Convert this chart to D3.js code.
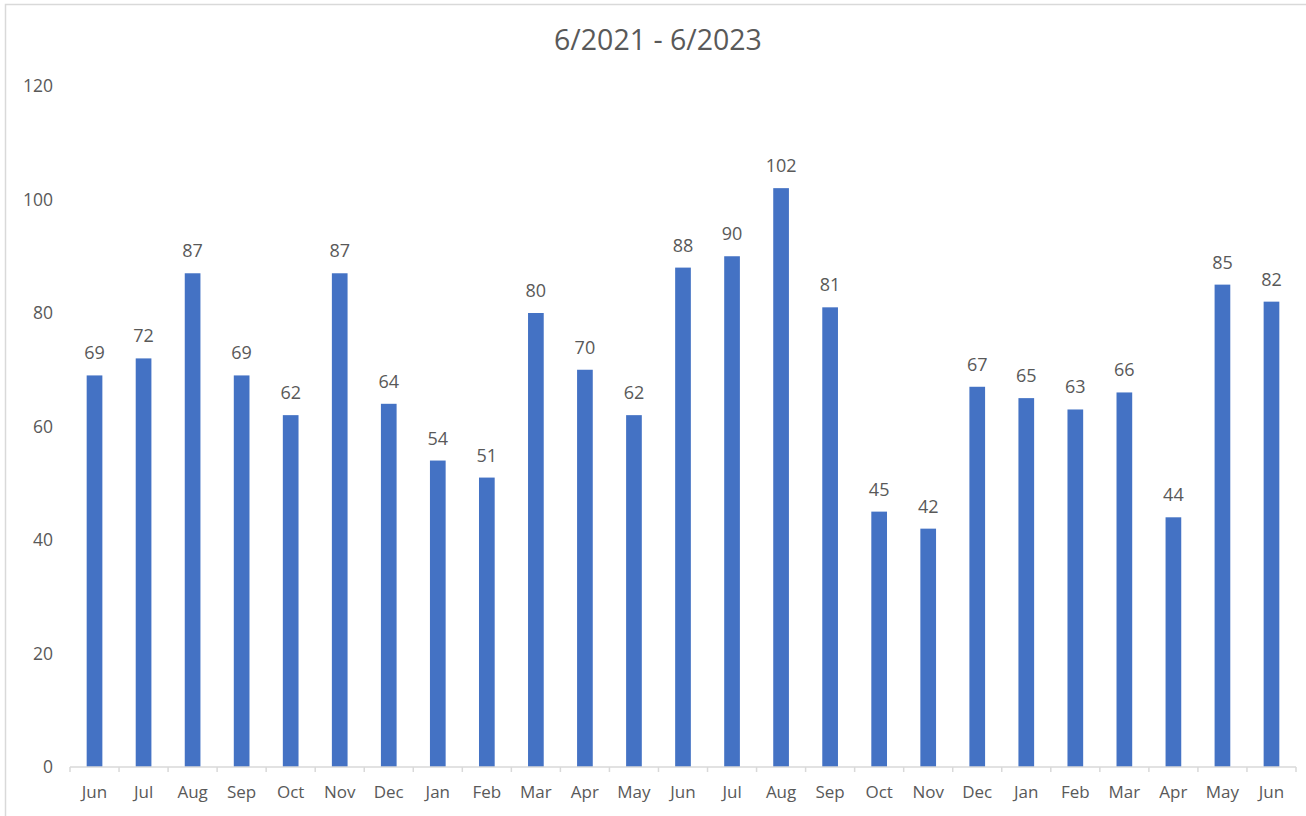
<!DOCTYPE html>
<html>
  <head>
    <script src="https://d3js.org/d3.v7.min.js"></script>
    <style>
      body { margin: 0; background: #fff; }
      text { font-family: "Open Sans", "Noto Sans", sans-serif; fill: #595959; }
    </style>
  </head>
  <body>
    <svg width="1306" height="816"></svg>
    <script>
      // month labels, 6/2021 through 6/2023
      var months = ["Jun", "Jul", "Aug", "Sep", "Oct", "Nov", "Dec", "Jan", "Feb", "Mar", "Apr", "May",
                    "Jun", "Jul", "Aug", "Sep", "Oct", "Nov", "Dec", "Jan", "Feb", "Mar", "Apr", "May", "Jun"];
      var counts = [69, 72, 87, 69, 62, 87, 64, 54, 51, 80, 70, 62,
                    88, 90, 102, 81, 45, 42, 67, 65, 63, 66, 44, 85, 82];
      var yTicks = [0, 20, 40, 60, 80, 100, 120];

      var svg = d3.select("svg");

      // chart frame
      svg.append("rect")
        .attr("x", 5.5).attr("y", 4.5)
        .attr("width", 1306).attr("height", 820)
        .attr("fill", "#fff")
        .attr("stroke", "#d9d9d9")
        .attr("stroke-width", 1.5);

      svg.append("text")
        .attr("x", 658).attr("y", 50)
        .attr("text-anchor", "middle")
        .style("font-size", "28.5px")
        .text("6/2021 - 6/2023");

      var idx = d3.range(months.length);
      var x = d3.scaleBand().domain(idx).range([70, 1296]).paddingInner(0.68).paddingOuter(0.34);
      var y = d3.scaleLinear().domain([0, 120]).range([767, 86]);

      // y labels (no gridlines, no axis line)
      var yAxis = d3.axisLeft(y).tickValues(yTicks).tickSize(0).tickPadding(0);
      var gy = svg.append("g").attr("transform", "translate(53,0)").call(yAxis);
      gy.select(".domain").remove();
      gy.selectAll("text").style("font-size", "17.5px").attr("fill", "#595959");

      svg.selectAll("rect.bar")
        .data(counts)
        .enter()
        .append("rect")
        .attr("class", "bar")
        .attr("x", function(d, i) { return x(i); })
        .attr("width", x.bandwidth())
        .attr("y", function(d) { return y(d); })
        .attr("height", function(d) { return y(0) - y(d); })
        .attr("fill", "#4472c4");

      svg.selectAll("text.val")
        .data(counts)
        .enter()
        .append("text")
        .attr("class", "val")
        .attr("x", function(d, i) { return x(i) + x.bandwidth() / 2; })
        .attr("y", function(d) { return y(d) - 16; })
        .attr("text-anchor", "middle")
        .style("font-size", "18px")
        .text(function(d) { return d; });

      // x axis with ticks between categories
      var band = (1296 - 70) / months.length;
      var xl = d3.scaleLinear().domain([0, months.length]).range([70, 1296]);
      var gx = svg.append("g").attr("transform", "translate(0,767)");
      gx.append("line")
        .attr("x1", xl(0)).attr("x2", xl(months.length))
        .attr("stroke", "#d9d9d9").attr("stroke-width", 1.5);
      gx.selectAll("line.tick")
        .data(d3.range(months.length + 1))
        .enter()
        .append("line")
        .attr("class", "tick")
        .attr("x1", function(d) { return xl(d); })
        .attr("x2", function(d) { return xl(d); })
        .attr("y1", 0).attr("y2", 5)
        .attr("stroke", "#d9d9d9").attr("stroke-width", 1.5);
      gx.selectAll("text")
        .data(months)
        .enter()
        .append("text")
        .attr("x", function(d, i) { return xl(i) + band / 2; })
        .attr("y", 31)
        .attr("text-anchor", "middle")
        .style("font-size", "17px")
        .text(function(d) { return d; });
    </script>
  </body>
</html>
